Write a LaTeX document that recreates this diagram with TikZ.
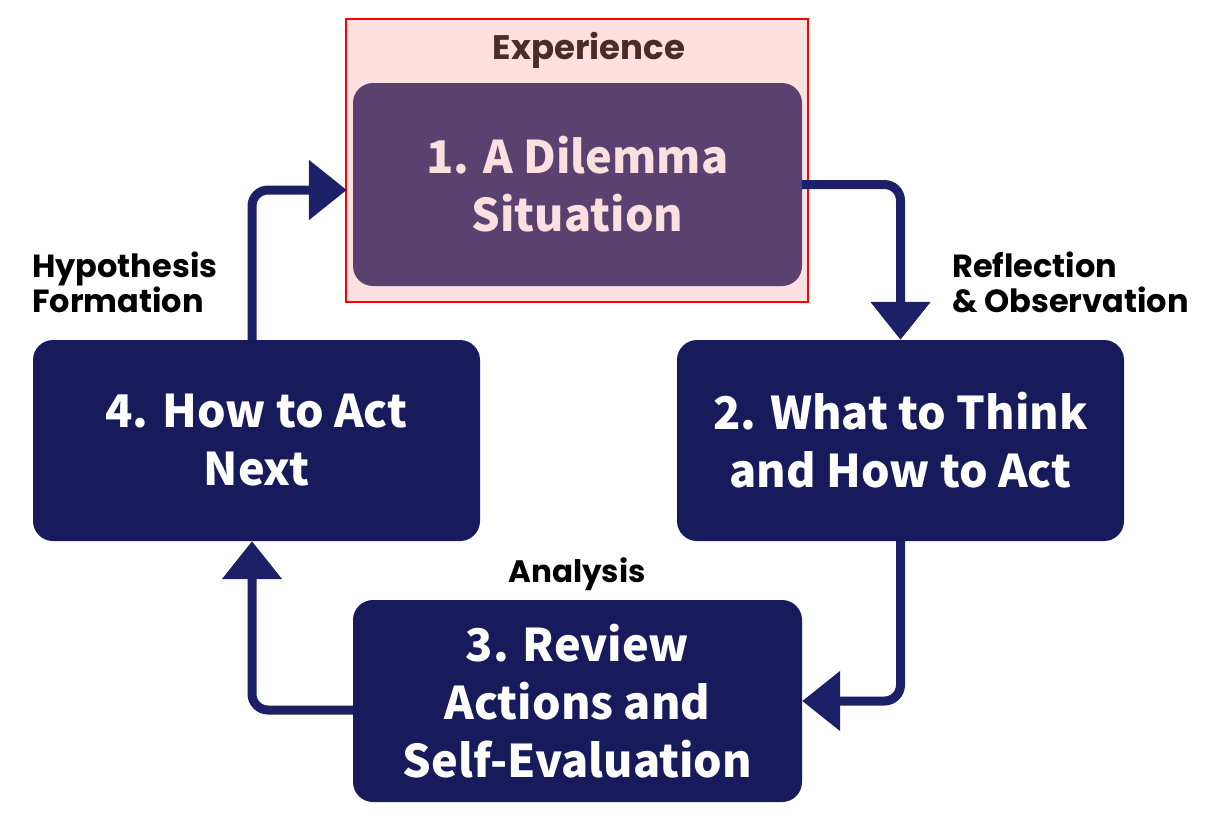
\documentclass[tikz,border=0pt]{standalone}
\usepackage{fontspec}
\usetikzlibrary{arrows.meta,calc}
\newfontfamily\boxfont{Noto Sans CJK JP}
\newfontfamily\labfont{Poppins}
\definecolor{navy}{HTML}{171B5C}
\definecolor{linecol}{HTML}{1C2066}
\definecolor{purp}{HTML}{5B4170}
\definecolor{pinkt}{HTML}{FCE0E0}
\definecolor{framefill}{HTML}{FFE0E1}
\definecolor{expbrown}{HTML}{4A2C2C}
\tikzset{
  boxbase/.style={rounded corners=20pt, inner sep=0pt, align=center,
    font=\boxfont\bfseries\fontsize{45}{58}\selectfont},
  navybox/.style={boxbase, fill=navy, text=white},
  purpbox/.style={boxbase, fill=purp, text=pinkt},
  lab/.style={font=\labfont\bfseries\fontsize{32}{35}\selectfont, inner sep=0pt, align=left, text=black},
  conn/.style={draw=linecol, line width=9pt, rounded corners=16pt,
    -{Triangle[length=38pt,width=58pt]}}
}
\begin{document}
\begin{tikzpicture}[x=1pt,y=-1pt]
\useasboundingbox[fill=white] (0,0) rectangle (1216,817);
\node[draw=red, line width=1.6pt, fill=framefill, minimum width=462pt, minimum height=283pt, inner sep=0pt] (exp) at (577,160.5) {};
\node[lab, font=\labfont\bfseries\fontsize{34}{36}\selectfont, text=expbrown] (explab) at (589,50) {Experience};
\node[purpbox, minimum width=449pt, minimum height=203pt] (b1) at (577.5,184.5) {1. A Dilemma\\Situation};
\node[navybox, minimum width=447pt, minimum height=201pt] (b2) at (900.5,440.5) {2. What to Think\\and How to Act};
\node[navybox, minimum width=449pt, minimum height=202pt] (b3) at (577.5,701) {3. Review\\Actions and\\Self-Evaluation};
\node[navybox, minimum width=447pt, minimum height=201pt] (b4) at (256.5,440.5) {4. How to Act\\Next};
\node[lab, anchor=north west] (hyp) at (32,252) {Hypothesis\\Formation};
\node[lab, anchor=north west] (refl) at (952,252) {Reflection\\\& Observation};
\node[lab, font=\labfont\bfseries\fontsize{31}{35}\selectfont] (ana) at (577,574) {Analysis};
\draw[conn] (b1.east) -| (b2.north);
\draw[conn] (b2.south) |- (b3.east);
\draw[conn] ([yshift=-9pt]b3.west) -| ([xshift=-4.5pt]b4.south);
\draw[conn, shorten >=6pt] ([xshift=-4.5pt]b4.north) |- ([yshift=-5.5pt]b1.west);
\end{tikzpicture}
\end{document}
